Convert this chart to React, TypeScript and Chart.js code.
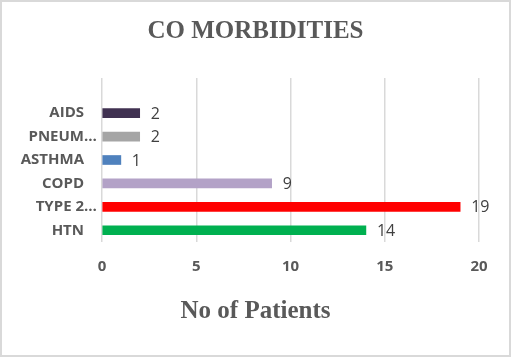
import React, { useEffect, useRef } from "react";
import { Chart, registerables } from "chart.js";

Chart.register(...registerables);

const titleText = "CO MORBIDITIES";
const axisTitle = "No of Patients";
const categories = ["", "AIDS", "PNEUM…", "ASTHMA", "COPD", "TYPE 2…", "HTN"];
const patients: (number | null)[] = [null, 2, 2, 1, 9, 19, 14];
const barColors = ["#ffffff", "#403151", "#A5A5A5", "#4F81BD", "#B3A2C7", "#FF0000", "#00B050"];
const xMin = 0;
const xMax = 20;
const xStep = 5;

const valueLabels = {
  id: "valueLabels",
  afterDatasetsDraw(chart: any) {
    const ctx = chart.ctx;
    const meta = chart.getDatasetMeta(0);
    const data = chart.data.datasets[0].data;
    ctx.save();
    ctx.font = "16px 'Open Sans'";
    ctx.fillStyle = "#404040";
    ctx.textAlign = "left";
    ctx.textBaseline = "middle";
    meta.data.forEach((el: any, i: number) => {
      const v = data[i];
      if (v === null || v === undefined) return;
      ctx.fillText(String(v), el.x + 11, el.y + 1);
    });
    ctx.restore();
  },
};

// Category labels drawn at the category scale's tick positions (no clipping)
const categoryLabels = {
  id: "categoryLabels",
  afterDraw(chart: any) {
    const ctx = chart.ctx;
    const yScale = chart.scales.y;
    const xRight = chart.chartArea.left - 18;
    ctx.save();
    ctx.font = "bold 15px 'Open Sans'";
    ctx.fillStyle = "#595959";
    ctx.textAlign = "left";
    ctx.textBaseline = "middle";
    (chart.data.labels as string[]).forEach((lab, i) => {
      if (!lab) return;
      const y = yScale.getPixelForTick(i);
      const base = lab.endsWith("…") ? lab.slice(0, -1) : lab;
      const w = ctx.measureText(base).width;
      ctx.fillText(lab, xRight - w, y);
    });
    ctx.restore();
  },
};

const serifFont = { family: "'Liberation Serif', 'Times New Roman', serif", size: 25, weight: "bold" as const, lineHeight: 1.2 };

export default function App() {
  const ref = useRef<HTMLCanvasElement>(null);
  useEffect(() => {
    if (!ref.current) return;
    const chart = new Chart(ref.current, {
      type: "bar",
      data: {
        labels: categories,
        datasets: [
          {
            data: patients as any,
            backgroundColor: barColors,
            barThickness: 9,
          },
        ],
      },
      plugins: [valueLabels, categoryLabels],
      options: {
        indexAxis: "y",
        animation: false,
        responsive: false,
        devicePixelRatio: 1,
        layout: { padding: { top: 0, right: 32, bottom: 0, left: 32 } },
        plugins: {
          legend: { display: false },
          tooltip: { enabled: false },
          title: {
            display: true,
            text: titleText,
            color: "#595959",
            font: serifFont,
            padding: { top: 17, bottom: 31 },
          },
          subtitle: {
            display: true,
            position: "bottom",
            text: axisTitle,
            color: "#595959",
            font: serifFont,
            padding: { top: 5, bottom: 30 },
          },
        },
        scales: {
          x: {
            min: xMin,
            max: xMax,
            border: { display: false },
            grid: { color: "#d9d9d9", lineWidth: 1.5, drawTicks: false },
            ticks: {
              stepSize: xStep,
              padding: 16,
              color: "#595959",
              font: { family: "'Open Sans'", size: 15, weight: "bold", lineHeight: 1.2 },
            },
          },
          y: {
            border: { display: false },
            grid: { display: false, drawTicks: false },
            afterFit: (scale: any) => {
              scale.width = 70;
            },
            ticks: { display: false },
          },
        },
      },
    });
    return () => chart.destroy();
  }, []);
  return (
    <div style={{ position: "absolute", left: 0, top: 0, width: 511, height: 357, background: "#fff" }}>
      <canvas ref={ref} width={511} height={357} style={{ display: "block" }} />
      <div
        style={{
          position: "absolute",
          left: 0,
          top: 0,
          width: 511,
          height: 357,
          boxSizing: "border-box",
          border: "2px solid #d9d9d9",
          pointerEvents: "none",
        }}
      />
    </div>
  );
}
